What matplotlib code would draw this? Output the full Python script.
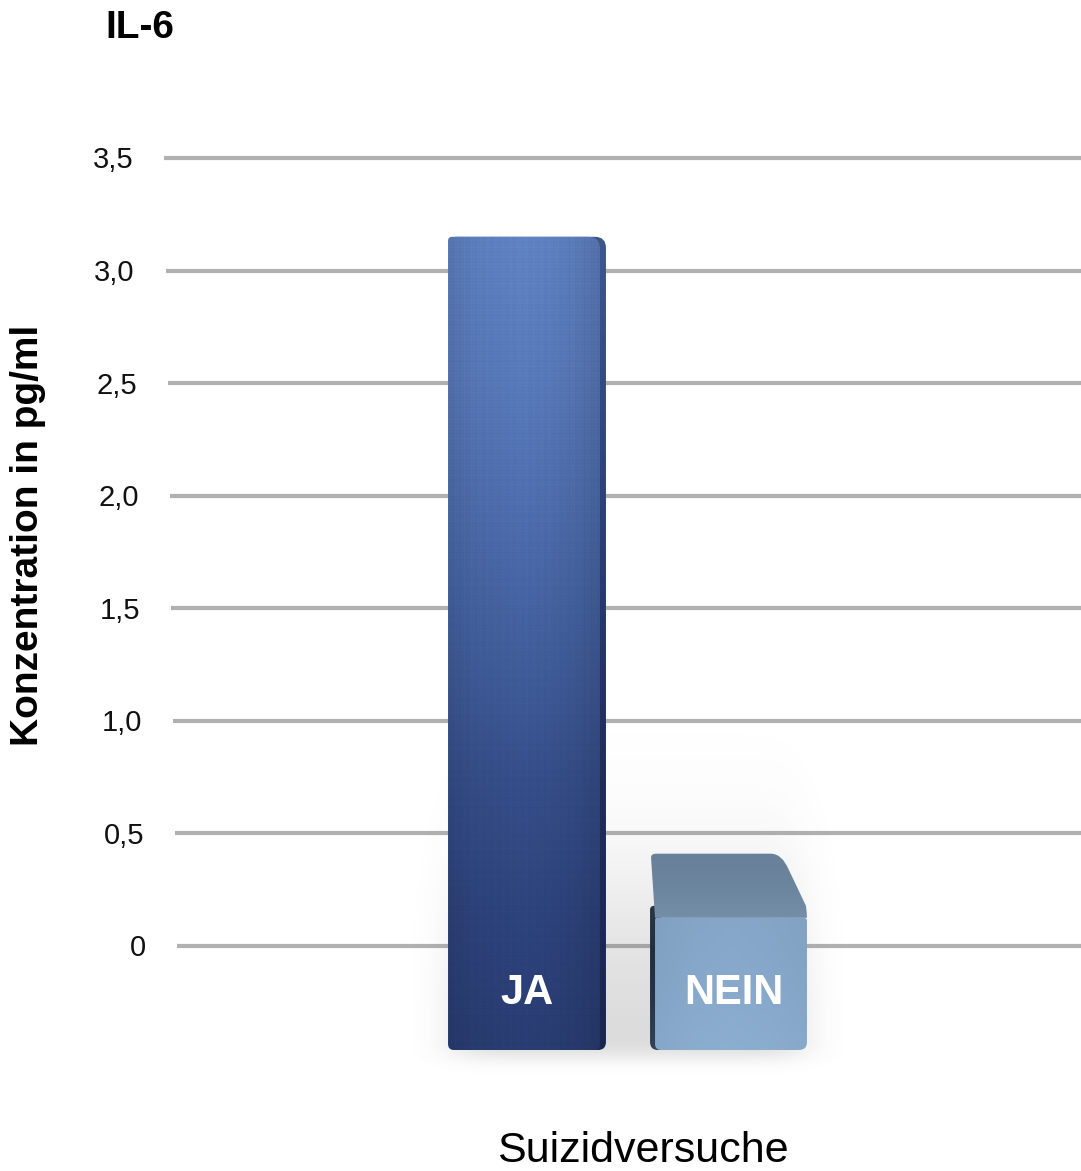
import math
import numpy as np
import matplotlib
matplotlib.use("Agg")
import matplotlib.pyplot as plt
from matplotlib.path import Path
from matplotlib.patches import PathPatch

plt.rcParams['font.family'] = ['Liberation Sans', 'DejaVu Sans']

# ---- chart content ----
title = "IL-6"
y_label = "Konzentration in pg/ml"
x_label = "Suizidversuche"
categories = ["JA", "NEIN"]
values = [3.15, 0.41]
y_ticks = [0, 0.5, 1.0, 1.5, 2.0, 2.5, 3.0, 3.5]
y_tick_labels = ["0", "0,5", "1,0", "1,5", "2,0", "2,5", "3,0", "3,5"]

# ---- canvas and scales ----
W, H = 1081, 1171
fig = plt.figure(figsize=(W / 100, H / 100), dpi=100)
ax = fig.add_axes([0, 0, 1, 1])
ax.axis('off')

X0_PX, X_UNIT_PX = 524.0, 207.0          # category 0 position / spacing in pixels
Y0_PX, Y_UNIT_PX = 946.0, 788.0 / 3.5    # zero line / pixels per pg/ml
XLIM = (-X0_PX / X_UNIT_PX, (W - X0_PX) / X_UNIT_PX)
YLIM = ((Y0_PX - H) / Y_UNIT_PX, Y0_PX / Y_UNIT_PX)


def dx(p):
    return p / X_UNIT_PX


def dy(p):
    return p / Y_UNIT_PX


# 3D look: eye point and depth factor of the bar boxes
EYE_X, EYE_Y = 0.5, 2.09
DEPTH = 0.145
BASE = -0.462            # bars stand on a floor slightly in front of the zero line
HALF_W = 0.367           # half width of a bar's front face

# ---- grid lines on the back wall (slight perspective) with tick labels ----
for v, lab in zip(y_ticks, y_tick_labels):
    x_start = (177 - 13 * v / 3.5 - X0_PX) / X_UNIT_PX
    ax.plot([x_start, XLIM[1]], [v, v], color='#b1b1b1', lw=3.0,
            solid_capstyle='butt', zorder=1)
    ax.text(x_start - dx(31), v - dy(10.5), lab, ha='right', va='baseline',
            fontsize=21, color='#111111')


def rrect_path(x0, y0, x1, y1, rtl=0, rtr=0, rbr=0, rbl=0):
    """Rounded rectangle in data coords; radii given in pixels."""
    v, c = [], []
    v.append((x0 + dx(rbl), y0)); c.append(Path.MOVETO)
    v.append((x1 - dx(rbr), y0)); c.append(Path.LINETO)
    v += [(x1, y0), (x1, y0 + dy(rbr))]; c += [Path.CURVE3] * 2
    v.append((x1, y1 - dy(rtr))); c.append(Path.LINETO)
    v += [(x1, y1), (x1 - dx(rtr), y1)]; c += [Path.CURVE3] * 2
    v.append((x0 + dx(rtl), y1)); c.append(Path.LINETO)
    v += [(x0, y1), (x0, y1 - dy(rtl))]; c += [Path.CURVE3] * 2
    v.append((x0, y0 + dy(rbl))); c.append(Path.LINETO)
    v += [(x0, y0), (x0 + dx(rbl), y0)]; c += [Path.CURVE3] * 2
    v.append((x0, y0)); c.append(Path.CLOSEPOLY)
    return Path(v, c)


def gradient_fill(path, extent, stops, z, horiz=None, texture=0.0):
    """Fill a path with a vertical colour gradient (top -> bottom stops)."""
    patch = PathPatch(path, facecolor='none', edgecolor='none', zorder=z)
    ax.add_patch(patch)
    x0, x1, y0, y1 = extent
    nh = max(int((y1 - y0) * Y_UNIT_PX), 2)
    nw = max(int((x1 - x0) * X_UNIT_PX), 2)
    t = np.linspace(0, 1, nh)[:, None]
    pos = np.linspace(0, 1, len(stops))
    cols = np.array(stops, dtype=float) / 255.0
    img = np.stack([np.interp(t[:, 0], pos, cols[:, k]) for k in range(3)], axis=-1)
    img = np.repeat(img[:, None, :], nw, axis=1)
    if horiz is not None:
        s = np.linspace(0, 1, nw)
        hp = np.interp(s, np.linspace(0, 1, len(horiz)), horiz)
        img = img * hp[None, :, None]
    if texture:
        yy, xx = np.mgrid[0:nh, 0:nw]
        weave = (0.45 * np.sin(2 * np.pi * xx / 3.1) + 0.3 * np.sin(2 * np.pi * xx / 7.7 + 1.3)
                 + 0.35 * np.sin(2 * np.pi * yy / 3.3) + 0.2 * np.sin(2 * np.pi * yy / 9.1 + 0.4))
        img = img * (1 + texture * weave[..., None])
    img = np.clip(img, 0, 1)
    im = ax.imshow(img, extent=(x0, x1, y0, y1), origin='upper', aspect='auto',
                   interpolation='bilinear', zorder=z)
    im.set_clip_path(patch)
    return patch


# ---- soft floor shadow around the lower part of the bars ----
erf = np.vectorize(math.erf)
sx_px = np.arange(360, 880)
sy_px = np.arange(700, 1100)
fx = 0.5 * (erf((sx_px - 455) / 30.0) - erf((sx_px - 800) / 30.0))
fy = 0.5 * (1 + erf((sy_px - 900) / 110.0)) * 0.5 * (1 - erf((sy_px - 1056) / 12.0))
alpha = 0.24 * fy[:, None] * fx[None, :]
shadow = np.zeros(alpha.shape + (4,))
shadow[..., :3] = 0.4
shadow[..., 3] = alpha
ax.imshow(shadow, extent=(dx(360 - X0_PX), dx(880 - X0_PX), dy(Y0_PX - 1100), dy(Y0_PX - 700)),
          origin='upper', aspect='auto', interpolation='bilinear', zorder=2)

# ---- bars ----
for i, (cat, val) in enumerate(zip(categories, values)):
    xl, xr = i - HALF_W, i + HALF_W
    if val >= EYE_Y:
        front_top = val
    else:
        front_top = (val - DEPTH * EYE_Y) / (1 - DEPTH)
    back_l = xl + DEPTH * (EYE_X - xl)
    back_r = xr + DEPTH * (EYE_X - xr)

    if i == 0:
        # dark side face on the right
        side = rrect_path(xl + dx(4), BASE, back_r + dx(2), val, rtl=4, rtr=11, rbr=8, rbl=4)
        gradient_fill(side, (xl, back_r + dx(3), BASE, val),
                      [(62, 88, 140), (45, 65, 115), (30, 45, 90), (25, 38, 80)], z=3)
        front = rrect_path(xl, BASE, xr, front_top, rtl=4, rtr=12, rbr=5, rbl=6)
        gradient_fill(front, (xl, xr, BASE, front_top),
                      [(92, 126, 188), (86, 118, 180), (76, 106, 168), (64, 92, 152),
                       (52, 76, 133), (44, 65, 120), (40, 59, 111)],
                      z=4, horiz=[0.93, 1.0, 1.02, 1.04, 1.02, 0.98, 0.9], texture=0.035)
    else:
        # dark side face on the left
        side = rrect_path(back_l - dx(1), BASE, xl + dx(6), front_top + dy(12),
                          rtl=4, rtr=0, rbr=0, rbl=8)
        gradient_fill(side, (back_l - dx(2), xl + dx(6), BASE, front_top + dy(12)),
                      [(40, 54, 70), (34, 46, 62), (38, 52, 70), (50, 66, 88)], z=3)
        # top face, receding towards the eye point, rounded back-right corner
        ex, ey = back_r + 0.3 * (xr - back_r), val + 0.25 * (front_top - val)
        v = [(xl, front_top),
             (back_l, val - dy(4)),
             (back_l, val), (back_l + dx(5), val),
             (back_r - dx(10), val),
             (back_r + dx(1), val), (ex, ey),
             (xr - dx(1), front_top + dy(12)),
             (xr, front_top + dy(5)), (xr, front_top),
             (xl, front_top)]
        c = [Path.MOVETO, Path.LINETO, Path.CURVE3, Path.CURVE3, Path.LINETO,
             Path.CURVE3, Path.CURVE3, Path.LINETO, Path.CURVE3, Path.CURVE3,
             Path.CLOSEPOLY]
        top = Path(v, c)
        gradient_fill(top, (back_l - dx(2), xr, front_top, val),
                      [(104, 128, 152), (108, 133, 158), (116, 142, 168)], z=4)
        front = rrect_path(xl, BASE, xr, front_top, rtl=2, rtr=3, rbr=8, rbl=6)
        gradient_fill(front, (xl, xr, BASE, front_top),
                      [(133, 165, 199), (135, 168, 202), (138, 172, 207)],
                      z=5, horiz=[0.97, 1.0, 1.01, 1.0, 0.98])

    ax.text(i + dx(3), dy(Y0_PX - 1004), cat, ha='center', va='baseline',
            fontsize=30, fontweight='bold', color='white', zorder=8)

# ---- titles ----
fig.text(105 / W, 1 - 38 / H, title, ha='left', va='baseline',
         fontsize=28, fontweight='bold', color='black')
fig.text(28 / W, 1 - 535 / H, y_label, ha='center', va='center', rotation=90,
         fontsize=28, fontweight='bold', color='black')
fig.text(643 / W, 1 - 1162 / H, x_label, ha='center', va='baseline',
         fontsize=31, color='black')

ax.set_xlim(*XLIM)
ax.set_ylim(*YLIM)
fig.savefig("out.png", dpi=100)
